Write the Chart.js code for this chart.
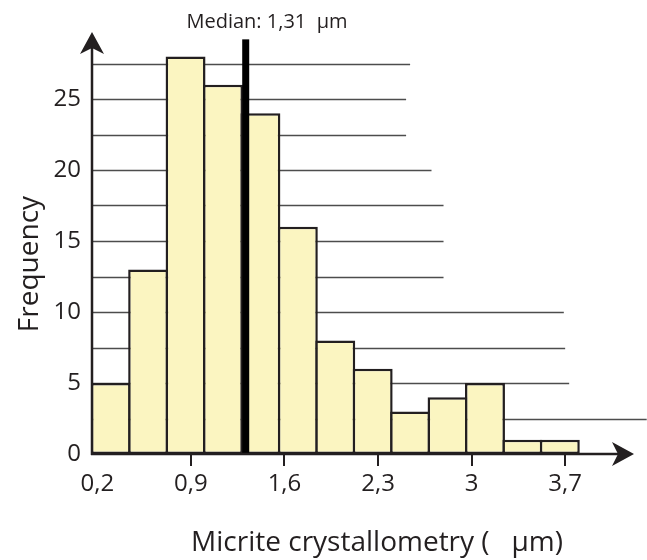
<!DOCTYPE html>
<html>
<head>
<meta charset="utf-8">
<script src="https://cdn.jsdelivr.net/npm/chart.js@4.4.1/dist/chart.umd.min.js"></script>
<style>
  html, body { margin: 0; padding: 0; background: #fff; }
  canvas { display: block; }
</style>
</head>
<body>
<canvas id="histo" width="647" height="560"></canvas>
<script>
// histogram bins (bin centres in µm) and counts
const binCenters = [0.30, 0.58, 0.86, 1.14, 1.42, 1.70, 1.98, 2.26, 2.54, 2.82, 3.10, 3.38, 3.66];
const frequencies = [5, 13, 28, 26, 24, 16, 8, 6, 3, 4, 5, 1, 1];
const xTickValues = [0.2, 0.9, 1.6, 2.3, 3.0, 3.7];
// horizontal guide lines and how far right each one reaches (x units)
const gridLevels = [2.5, 5, 7.5, 10, 12.5, 15, 17.5, 20, 22.5, 25, 27.5];
const gridLineEnds = [4.31, 3.73, 3.70, 3.69, 2.79, 2.79, 2.79, 2.70, 2.51, 2.51, 2.54];
const medianValue = 1.31;

const ink = '#231f20';
const fontFamily = '"Open Sans", sans-serif';

const decorations = {
  id: 'decorations',
  beforeDatasetsDraw(chart) {
    const { ctx, chartArea, scales: { x, y } } = chart;
    ctx.save();
    ctx.strokeStyle = '#4d4d4d';
    ctx.lineWidth = 1.3;
    gridLevels.forEach((lv, i) => {
      const py = Math.round(y.getPixelForValue(lv)) + 0.5;
      ctx.beginPath();
      ctx.moveTo(chartArea.left, py);
      ctx.lineTo(x.getPixelForValue(gridLineEnds[i]), py);
      ctx.stroke();
    });
    ctx.restore();
  },
  afterDatasetsDraw(chart) {
    const { ctx, chartArea, scales: { x, y } } = chart;
    const left = chartArea.left, bottom = chartArea.bottom;
    ctx.save();
    // median line
    const mx = x.getPixelForValue(medianValue);
    ctx.fillStyle = '#000';
    ctx.fillRect(mx - 3.5, y.getPixelForValue(29.2), 7, bottom - y.getPixelForValue(29.2));

    // axes
    ctx.strokeStyle = ink;
    ctx.lineWidth = 2.5;
    const yTip = chartArea.top + 4;
    const xTip = chartArea.right - 2;
    ctx.beginPath();
    ctx.moveTo(left, bottom + 1);
    ctx.lineTo(left, yTip + 10);
    ctx.moveTo(left - 1, bottom);
    ctx.lineTo(xTip - 10, bottom);
    ctx.stroke();

    // arrow heads
    ctx.fillStyle = ink;
    ctx.beginPath();
    ctx.moveTo(left, yTip);
    ctx.lineTo(left - 12, yTip + 22);
    ctx.lineTo(left, yTip + 16);
    ctx.lineTo(left + 12, yTip + 22);
    ctx.closePath();
    ctx.fill();
    ctx.beginPath();
    ctx.moveTo(xTip, bottom);
    ctx.lineTo(xTip - 22, bottom - 12);
    ctx.lineTo(xTip - 16, bottom);
    ctx.lineTo(xTip - 22, bottom + 12);
    ctx.closePath();
    ctx.fill();
    ctx.restore();
  },
  afterDraw(chart) {
    const { ctx } = chart;
    ctx.save();
    ctx.fillStyle = ink;
    ctx.textAlign = 'center';
    ctx.textBaseline = 'alphabetic';

    ctx.font = '20px ' + fontFamily;
    ctx.fillText('Median: 1,31  µm', 267, 28);

    ctx.font = '28px ' + fontFamily;
    ctx.fillText('Micrite crystallometry (   µm)', 377, 551);

    ctx.translate(38, 264);
    ctx.rotate(-Math.PI / 2);
    ctx.fillText('Frequency', 0, 0);
    ctx.restore();
  }
};

new Chart(document.getElementById('histo'), {
  type: 'bar',
  data: {
    datasets: [{
      data: binCenters.map((c, i) => ({ x: c, y: frequencies[i] })),
      backgroundColor: 'rgb(251, 245, 193)',
      borderColor: ink,
      borderWidth: 2.5,
      borderSkipped: false,
      barPercentage: 1.067,
      categoryPercentage: 1
    }]
  },
  options: {
    responsive: false,
    animation: false,
    layout: { padding: { top: 28, right: 11, bottom: 0, left: 0 } },
    plugins: { legend: { display: false }, tooltip: { enabled: false } },
    scales: {
      x: {
        type: 'linear',
        min: 0.16,
        max: 4.23,
        offset: false,
        afterBuildTicks: (scale) => { scale.ticks = xTickValues.map(v => ({ value: v })); },
        afterFit: (scale) => { scale.height = 106; },
        border: { display: false },
        grid: {
          offset: false,
          drawOnChartArea: false,
          drawTicks: true,
          tickLength: 12,
          lineWidth: 2,
          color: (ctx) => ctx.index === 0 ? 'rgba(0,0,0,0)' : ink
        },
        ticks: {
          autoSkip: false,
          maxRotation: 0,
          padding: 4,
          color: ink,
          font: { family: fontFamily, size: 24 },
          callback: (v) => String(v).replace('.', ',')
        }
      },
      y: {
        min: 0,
        max: 30,
        afterFit: (scale) => { scale.width = 92; },
        border: { display: false },
        grid: { display: false, drawTicks: false },
        ticks: {
          stepSize: 5,
          padding: 11,
          color: ink,
          font: { family: fontFamily, size: 24 },
          callback: (v) => v >= 30 ? '' : v
        }
      }
    }
  },
  plugins: [decorations]
});
</script>
</body>
</html>
